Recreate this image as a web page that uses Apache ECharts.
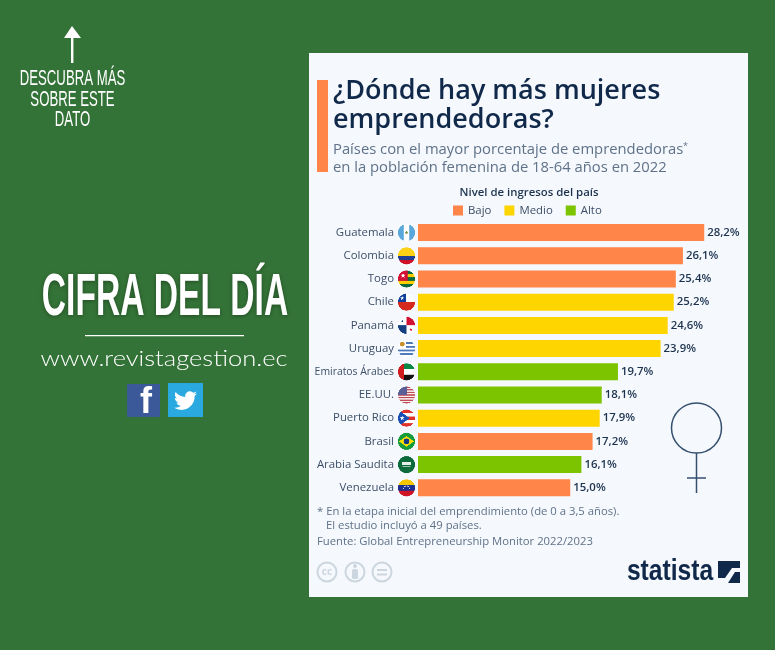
<!DOCTYPE html>
<html>
<head>
<meta charset="utf-8">
<style>html,body{margin:0;padding:0;background:#347337}#main{width:775px;height:650px}</style>
<script src="https://cdn.jsdelivr.net/npm/echarts@6/dist/echarts.min.js"></script>
</head>
<body>
<div id="main"></div>
<script>
// datos
var categories = ['Guatemala','Colombia','Togo','Chile','Panamá','Uruguay','Emiratos Árabes','EE.UU.','Puerto Rico','Brasil','Arabia Saudita','Venezuela'];
var values = [28.2,26.1,25.4,25.2,24.6,23.9,19.7,18.1,17.9,17.2,16.1,15.0];
var levels = ['Bajo','Bajo','Bajo','Medio','Medio','Medio','Alto','Alto','Medio','Bajo','Alto','Bajo'];
var levelNames = ['Bajo','Medio','Alto'];
var levelColors = ['#ff8548','#ffd500','#7dc400'];
var flagCodes = ['gt','co','tg','cl','pa','uy','ae','us','pr','br','sa','ve'];

var navy = '#10294a', grey = '#5f7289', green = '#347337';
var F = '"Open Sans","Noto Sans",sans-serif';

function star(c, x, y, r, col){
	c.fillStyle = col;
	c.beginPath();
	for(var i=0;i<10;i++){
		var a = -Math.PI/2 + i*Math.PI/5, q = i%2 ? r*0.42 : r;
		c.lineTo(x+q*Math.cos(a), y+q*Math.sin(a));
	}
	c.fill();
}

// banderas redondas, dibujadas en 64x64
function hbands(c, cols, ws){
	var y = 0, tot = 0, i;
	for(i=0;i<ws.length;i++) tot += ws[i];
	for(i=0;i<cols.length;i++){
		c.fillStyle = cols[i];
		c.fillRect(0, y, 64, 64*ws[i]/tot+1);
		y += 64*ws[i]/tot;
	}
}
var flagDraw = {
	gt:function(c){
		c.fillStyle='#5aa7dc';c.fillRect(0,0,64,64);
		c.fillStyle='#fff';c.fillRect(21,0,22,64);
		c.fillStyle='#8a9a5a';c.beginPath();c.arc(32,32,5,0,7);c.fill();
	},
	co:function(c){hbands(c,['#fcd116','#1f3f94','#ce1126'],[2,1,1]);},
	tg:function(c){
		hbands(c,['#0a6a3f','#ffce00','#0a6a3f','#ffce00','#0a6a3f'],[1,1,1,1,1]);
		c.fillStyle='#d21034';c.fillRect(0,0,36,38);
		star(c,19,19,10,'#fff');
	},
	cl:function(c){
		hbands(c,['#fff','#d52b1e'],[1,1]);
		c.fillStyle='#0d3f9c';c.fillRect(0,0,30,32);
		star(c,16,17,8,'#fff');
	},
	pa:function(c){
		c.fillStyle='#fff';c.fillRect(0,0,64,64);
		c.fillStyle='#d21034';c.fillRect(32,0,32,32);
		c.fillStyle='#14407f';c.fillRect(0,32,32,32);
		star(c,16,16,6,'#14407f');star(c,48,48,6,'#d21034');
	},
	uy:function(c){
		hbands(c,['#fff','#4a78bb','#fff','#4a78bb','#fff','#4a78bb','#fff','#4a78bb','#fff'],[1,1,1,1,1,1,1,1,1]);
		c.fillStyle='#fff';c.fillRect(0,0,30,30);
		c.fillStyle='#c98f2b';c.beginPath();c.arc(16,15,9,0,7);c.fill();
	},
	ae:function(c){
		hbands(c,['#0a8a45','#fff','#111'],[1,1,1]);
		c.fillStyle='#d01c1f';c.fillRect(0,0,22,64);
	},
	us:function(c){
		var s = [], i, w = [];
		for(i=0;i<13;i++){s.push(i%2?'#f4f0f0':'#c04a55');w.push(1);}
		hbands(c,s,w);
		c.fillStyle='#5a5f95';c.fillRect(0,0,34,32);
	},
	pr:function(c){
		hbands(c,['#e0322c','#fff','#e0322c','#fff','#e0322c'],[1,1,1,1,1]);
		c.fillStyle='#1a4fb5';c.beginPath();c.moveTo(0,0);c.lineTo(44,32);c.lineTo(0,64);c.fill();
		star(c,16,32,9,'#fff');
	},
	br:function(c){
		c.fillStyle='#169b3c';c.fillRect(0,0,64,64);
		c.fillStyle='#fedf00';c.beginPath();c.moveTo(4,32);c.lineTo(32,12);c.lineTo(60,32);c.lineTo(32,52);c.fill();
		c.fillStyle='#123a86';c.beginPath();c.arc(32,32,11,0,7);c.fill();
	},
	sa:function(c){
		c.fillStyle='#0b6b3c';c.fillRect(0,0,64,64);
		c.fillStyle='#e6f0e8';c.fillRect(15,22,34,11);c.fillRect(17,39,30,3);
	},
	ve:function(c){
		hbands(c,['#f7c600','#1c2f8f','#cf1428'],[1,1,1]);
		c.fillStyle='#fff';
		for(var a=200;a<=340;a+=28){
			c.beginPath();c.arc(32+13*Math.cos(a*Math.PI/180),38+13*Math.sin(a*Math.PI/180),2,0,7);c.fill();
		}
	}
};
function makeFlag(code){
	var cv = document.createElement('canvas');
	cv.width = cv.height = 64;
	var c = cv.getContext('2d');
	c.beginPath();c.arc(32,32,32,0,7);c.clip();
	flagDraw[code](c);
	return cv;
}

// etiquetas del eje con la bandera al lado
var richLabels = {
	n:{fontFamily:F,fontSize:11.4,color:'#3c4f68',padding:[0,4,0,0]},
	m:{fontFamily:F,fontSize:10.4,color:'#3c4f68',padding:[0,4,0,0]}
};
for(var i=0;i<flagCodes.length;i++){
	richLabels['f'+i] = {backgroundColor:{image:makeFlag(flagCodes[i])},width:17,height:17};
}

var series = [];
levelNames.forEach(function(lv, k){
	series.push({
		name:lv,
		type:'bar',
		stack:'pais',
		barWidth:17,
		itemStyle:{color:levelColors[k]},
		label:{
			show:true,
			position:'right',
			distance:3,
			fontFamily:F,
			fontSize:11.4,
			fontWeight:600,
			color:'#1c3350',
			formatter:function(p){return p.value.toFixed(1).replace('.',',')+'%';}
		},
		data:values.map(function(v,j){return levels[j]==lv ? v : null;})
	});
});

function txt(x,y,s,size,col,weight,align,font){
	return {type:'text',x:x,y:y,style:{text:s,fontSize:size,fill:col,fontWeight:weight||400,fontFamily:font||F,textAlign:align||'left',textVerticalAlign:'middle'}};
}
function cond(x,y,s,size,sx,weight,shadow){
	var e = txt(x,y,s,size,'#fff',weight,'center','"Liberation Sans"');
	e.scaleX = sx;
	if(shadow){e.style.textShadowColor='rgba(0,0,0,0.35)';e.style.textShadowBlur=4;e.style.textShadowOffsetY=1;}
	return e;
}
var birdPath = 'M23.953 4.57a10 10 0 0 1-2.825.775 4.958 4.958 0 0 0 2.163-2.723c-.951.555-2.005.959-3.127 1.184a4.92 4.92 0 0 0-8.384 4.482C7.69 8.095 4.067 6.13 1.64 3.162a4.822 4.822 0 0 0-.666 2.475c0 1.71.87 3.213 2.188 4.096a4.904 4.904 0 0 1-2.228-.616v.06a4.923 4.923 0 0 0 3.946 4.827 4.996 4.996 0 0 1-2.212.085 4.936 4.936 0 0 0 4.604 3.417 9.867 9.867 0 0 1-6.102 2.105c-.39 0-.779-.023-1.17-.067a13.995 13.995 0 0 0 7.557 2.209c9.053 0 13.998-7.496 13.998-13.985 0-.21 0-.42-.015-.63A9.935 9.935 0 0 0 24 4.59z';
echarts.graphic.registerShape('bird', echarts.graphic.extendPath(birdPath, {}));
var ccCol = '#ccd6df';

var graphics = [
	{type:'rect',shape:{x:309,y:53,width:439,height:544},style:{fill:'#f5f8fc'}},
	{type:'rect',shape:{x:317,y:80,width:11,height:92},style:{fill:'#ff8548'}},
	txt(333,91,'¿Dónde hay más mujeres',27,navy,600),
	txt(333,120,'emprendedoras?',27,navy,600),
	txt(333,150,'Países con el mayor porcentaje de emprendedoras',14.8,grey),
	txt(683,146,'*',9,grey),
	txt(333,168,'en la población femenina de 18-64 años en 2022',14.8,grey),
	txt(529,193,'Nivel de ingresos del país',11.4,'#1c3350',600,'center'),
	txt(317,512,'* En la etapa inicial del emprendimiento (de 0 a 3,5 años).',11.3,grey),
	txt(326,526,'El estudio incluyó a 49 países.',11.3,grey),
	txt(317,542,'Fuente: Global Entrepreneurship Monitor 2022/2023',11.3,grey),
	// iconos cc
	{type:'circle',shape:{cx:327,cy:572,r:9.5},style:{fill:'none',stroke:ccCol,lineWidth:2}},
	txt(327,572,'cc',10,ccCol,700,'center'),
	{type:'circle',shape:{cx:355,cy:572,r:9.5},style:{fill:'none',stroke:ccCol,lineWidth:2}},
	{type:'circle',shape:{cx:355,cy:566,r:2},style:{fill:ccCol}},
	{type:'rect',shape:{x:352,y:569,width:6,height:10,r:1.5},style:{fill:ccCol}},
	{type:'circle',shape:{cx:382,cy:572,r:9.5},style:{fill:'none',stroke:ccCol,lineWidth:2}},
	{type:'rect',shape:{x:377,y:569,width:10,height:2},style:{fill:ccCol}},
	{type:'rect',shape:{x:377,y:573.5,width:10,height:2},style:{fill:ccCol}},
	// logo statista
	(function(){var e = txt(670,572,'statista',30,navy,700,'center','"Liberation Sans"');e.scaleX=0.82;return e;})(),
	{type:'rect',shape:{x:718,y:561,width:22,height:22},style:{fill:navy}},
	{type:'polygon',shape:{points:[[718,583],[718,578],[725,578],[732,568],[740,568],[740,572],[735,572],[728,583]]},style:{fill:'#f5f8fc'}},
	// simbolo femenino
	{type:'circle',shape:{cx:696.5,cy:428,r:25},style:{fill:'none',stroke:'#34506f',lineWidth:1.5}},
	{type:'line',shape:{x1:696.5,y1:453,x2:696.5,y2:493},style:{stroke:'#34506f',lineWidth:1.5}},
	{type:'line',shape:{x1:687,y1:478,x2:706,y2:478},style:{stroke:'#34506f',lineWidth:1.5}},
	// lado izquierdo
	{type:'polygon',shape:{points:[[72,26],[81,38],[64,38]]},style:{fill:'#fff'}},
	{type:'rect',shape:{x:71,y:38,width:2.4,height:25},style:{fill:'#fff'}},
	cond(72.5,79,'DESCUBRA MÁS',22,0.6),
	cond(72.5,100,'SOBRE ESTE',22,0.6),
	cond(72.5,120,'DATO',22,0.6),
	cond(165,298,'CIFRA DEL DÍA',60,0.56,700,true),
	{type:'rect',shape:{x:85,y:335,width:159,height:1.2},style:{fill:'#fff'}},
	(function(){var e = txt(164,359,'www.revistagestion.ec',22,'#fff',300,'center','Lato');e.scaleX=1.16;return e;})(),
	{type:'rect',shape:{x:127,y:384,width:33,height:33},style:{fill:'#3b5998'}},
	txt(146,403,'f',36,'#fff',700,'center','"Liberation Sans"'),
	{type:'rect',shape:{x:168,y:383,width:35,height:34},style:{fill:'#2aa9e0'}},
	{type:'bird',x:174,y:389,scaleX:0.96,scaleY:0.96,style:{fill:'#fff'}}
];

var myChart = echarts.init(document.getElementById('main'));
var option = {
	backgroundColor:green,
	animation:false,
	legend:{
		data:levelNames,
		left:448,
		top:200,
		icon:'rect',
		itemWidth:10,
		itemHeight:10,
		itemGap:13,
		selectedMode:false,
		textStyle:{fontFamily:F,fontSize:11.4,color:'#3c4f68'}
	},
	grid:{left:418,top:221,width:304.5,height:278.4},
	xAxis:{type:'value',min:0,max:30,show:false},
	yAxis:{
		type:'category',
		inverse:true,
		data:categories,
		axisLine:{show:false},
		axisTick:{show:false},
		axisLabel:{
			margin:3,
			formatter:function(v,idx){
				return '{'+(v=='Emiratos Árabes'?'m':'n')+'|'+v+'}{f'+idx+'|}';
			},
			rich:richLabels
		}
	},
	series:series,
	graphic:{elements:graphics}
};
myChart.setOption(option);
</script>
</body>
</html>
